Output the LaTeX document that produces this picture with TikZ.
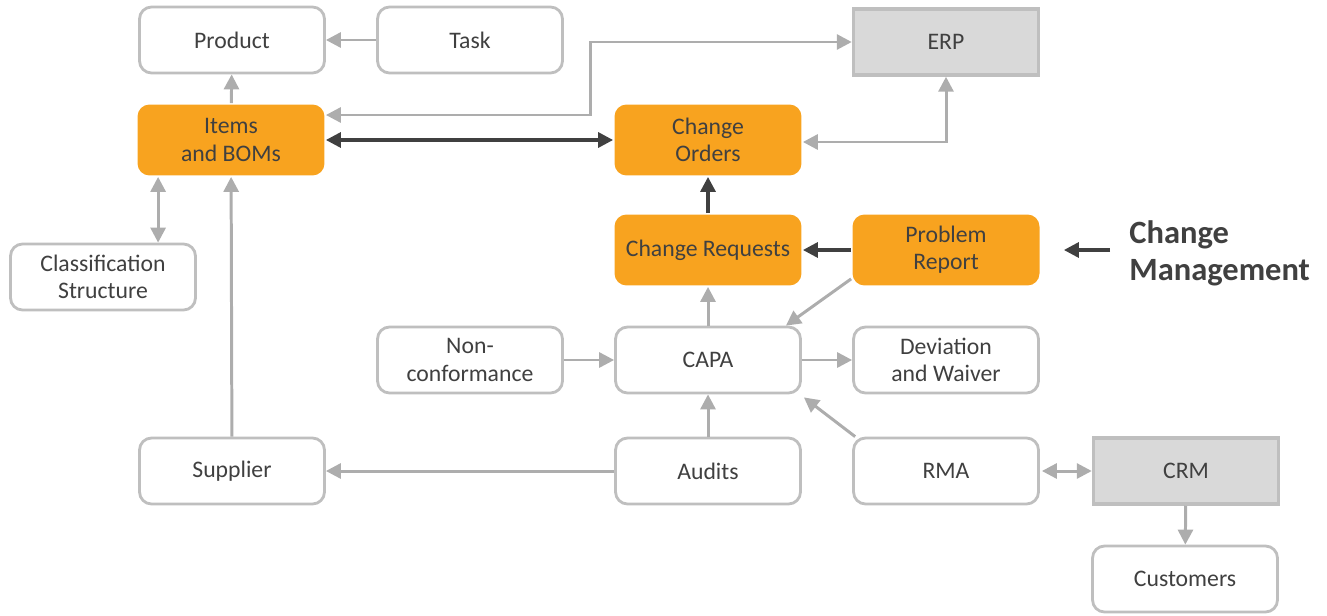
\documentclass[tikz,border=0pt]{standalone}
\usepackage{fontspec}
\setmainfont{Carlito}
\usetikzlibrary{arrows.meta}
\definecolor{boxline}{HTML}{BFBFBF}
\definecolor{conn}{HTML}{ADADAD}
\definecolor{txt}{HTML}{404040}
\definecolor{chg}{HTML}{F8A31F}
\definecolor{sys}{HTML}{D9D9D9}
\begin{document}
\begin{tikzpicture}[x=0.02cm,y=-0.02cm,
  box/.style={draw=boxline,line width=1.6pt,rounded corners=0.24cm,fill=white,
    minimum width=3.7cm,minimum height=1.32cm,align=center,text=txt,
    font=\fontsize{13.5}{15.5}\selectfont},
  chgbox/.style={box,draw=none,fill=chg,minimum width=3.74cm,minimum height=1.42cm},
  sysbox/.style={box,rounded corners=0pt,fill=sys,line width=2pt},
  gry/.style={conn,line width=1.7pt,arrows={-Triangle[length=8.5pt,width=8.5pt]}},
  both/.style={arrows={Triangle[length=8.5pt,width=8.5pt]-Triangle[length=8.5pt,width=8.5pt]}},
  drk/.style={txt,line width=1.8pt,arrows={-Triangle[length=8.5pt,width=8.5pt]}}]
  \useasboundingbox (0,0) rectangle (1327,615);

  %top row
  \node[box] (product) at (232,40) {Product};
  \node[box] (task) at (470,40) {Task};
  \node[sysbox] (erp) at (946,42) {ERP};

  %change management
  \node[chgbox] (items) at (231,140) {Items\\and BOMs};
  \node[chgbox] (orders) at (708,140) {Change\\Orders};
  \node[chgbox] (requests) at (708,250) {Change Requests};
  \node[chgbox] (problem) at (946,250) {Problem\\Report};
  \node[anchor=west,inner sep=0pt,align=left,text=txt,
    font=\fontsize{18.5}{21}\selectfont\bfseries] (cm) at (1129,253) {Change\\Management};

  %quality
  \node[box] (class) at (103,277) {Classification\\Structure};
  \node[box] (noncon) at (470,360) {Non-\\conformance};
  \node[box] (capa) at (708,360) {CAPA};
  \node[box] (dev) at (946,360) {Deviation\\and Waiver};

  %bottom rows
  \node[box] (supplier) at (232,471) {Supplier};
  \node[box] (audits) at (708,471) {Audits};
  \node[box] (rma) at (946,471) {RMA};
  \node[sysbox] (crm) at (1186,471) {CRM};
  \node[box] (customers) at (1185,579) {Customers};

  %grey links
  \draw[gry] (task) -- (product);
  \draw[gry] (items) -- (product);
  \draw[gry,both] ([yshift=0.5cm]items.east) -- ++(265,0) |- (erp.west);
  \draw[gry,both] ([yshift=-0.04cm]orders.east) -| (erp.south);
  \draw[gry,both] ([xshift=0.44cm]items.south west) -- ([xshift=0.44cm]items.south west |- class.north);
  \draw[gry] (supplier) -- (items);
  \draw[gry] (audits) -- (supplier);
  \draw[gry] (audits) -- (capa);
  \draw[gry] (capa) -- (requests);
  \draw[gry] (noncon) -- (capa);
  \draw[gry] (capa) -- (dev);
  \draw[gry] ([yshift=0.16cm]problem.south west) -- ([xshift=-0.32cm]capa.north east);
  \draw[gry] ([xshift=0.06cm]rma.north west) -- ([xshift=0.04cm,yshift=-0.06cm]capa.south east);
  \draw[gry,both] ([xshift=0.04cm]rma.east) -- (crm.west);
  \draw[gry] (crm) -- (customers);

  %dark links
  \draw[drk,both] (items) -- (orders);
  \draw[drk] (requests) -- (orders);
  \draw[drk] (problem) -- (requests);
  \draw[drk] ([xshift=-0.38cm]cm.west |- problem.east) -- ([xshift=0.46cm]problem.east);
\end{tikzpicture}
\end{document}
